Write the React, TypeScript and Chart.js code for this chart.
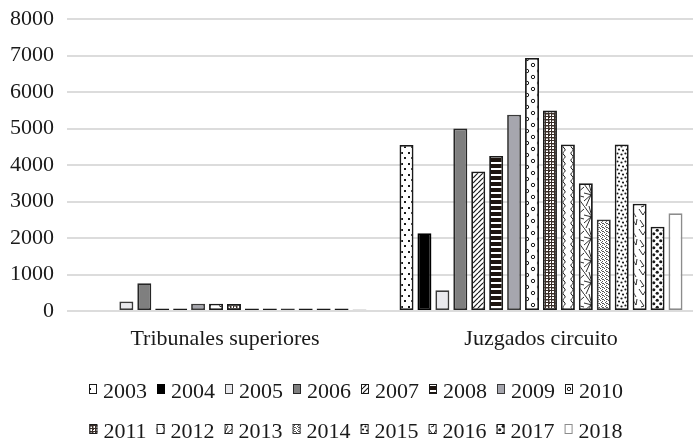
import React, { useEffect, useRef } from 'react';
import { Chart, registerables } from 'chart.js';

Chart.register(...registerables);

const categories = ['Tribunales superiores', 'Juzgados circuito'];
const years = ['2003', '2004', '2005', '2006', '2007', '2008', '2009', '2010', '2011', '2012', '2013', '2014', '2015', '2016', '2017', '2018'];
const tribunalesSuperiores: (number | null)[] = [null, null, 260, 760, 70, 70, 200, 200, 190, 70, 70, 70, 70, 70, 70, 40];
const juzgadosCircuito: (number | null)[] = [4550, 2130, 570, 5000, 3820, 4250, 5380, 6930, 5490, 4560, 3500, 2510, 4560, 2940, 2310, 2680];
const yMax = 8000;
const yStep = 1000;

const FONT = "'Liberation Serif', 'Times New Roman', serif";
const INK = '#1a1a1a';

type Paint = (ctx: CanvasRenderingContext2D) => void;

function tile(w: number, h: number, paint: Paint): CanvasPattern | string {
  const c = document.createElement('canvas');
  c.width = w;
  c.height = h;
  const ctx = c.getContext('2d');
  if (!ctx) return '#ffffff';
  ctx.fillStyle = '#ffffff';
  ctx.fillRect(0, 0, w, h);
  ctx.fillStyle = INK;
  ctx.strokeStyle = INK;
  paint(ctx);
  return ctx.createPattern(c, 'repeat') || '#ffffff';
}

function dot(c: CanvasRenderingContext2D, x: number, y: number, r: number) {
  c.beginPath();
  c.arc(x, y, r, 0, Math.PI * 2);
  c.fill();
}
function ring(c: CanvasRenderingContext2D, x: number, y: number, r: number) {
  c.beginPath();
  c.arc(x, y, r, 0, Math.PI * 2);
  c.stroke();
}
function poly(c: CanvasRenderingContext2D, p: number[]) {
  c.beginPath();
  c.moveTo(p[0], p[1]);
  for (let i = 2; i < p.length; i += 2) c.lineTo(p[i], p[i + 1]);
  c.stroke();
}

function buildFills(): (CanvasPattern | string)[] {
  return [
    // 2003 sparse dots
    tile(7, 11, (c) => { c.fillRect(1, 1, 2, 2); c.fillRect(4, 6, 2, 2); }),
    // 2004 solid black
    '#000000',
    // 2005 very light grey
    '#e9e9ed',
    // 2006 grey
    '#7f7f7f',
    // 2007 diagonal hatch
    tile(5, 5, (c) => { c.lineWidth = 1.2; for (const k of [-5, 0, 5]) poly(c, [k, 5, k + 5, 0]); }),
    // 2008 horizontal stripes
    tile(4, 6, (c) => { c.fillStyle = '#1e1510'; c.fillRect(0, 0, 4, 4); }),
    // 2009 mid grey
    '#a6a6ae',
    // 2010 small rings
    tile(12, 12, (c) => { c.lineWidth = 1; ring(c, 3, 3, 1.7); ring(c, 9, 9, 1.7); }),
    // 2011 plaid
    tile(6, 6, (c) => {
      c.fillStyle = '#3a2e28';
      c.fillRect(0, 0, 6, 1); c.fillRect(0, 3, 6, 1);
      c.fillRect(0, 0, 1, 6); c.fillRect(3, 0, 1, 6);
      c.fillRect(0, 0, 2, 2);
      c.globalAlpha = 0.5; c.fillRect(4, 4, 2, 1); c.fillRect(1, 4, 1, 2);
    }),
    // 2012 waves
    tile(8, 14, (c) => {
      c.lineWidth = 1;
      c.beginPath();
      c.moveTo(4, 0);
      c.bezierCurveTo(8, 3.5, 0, 3.5, 4, 7);
      c.bezierCurveTo(8, 10.5, 0, 10.5, 4, 14);
      c.stroke();
    }),
    // 2013 random crossing lines
    tile(16, 22, (c) => {
      c.lineWidth = 0.9;
      poly(c, [0, 0, 16, 22]);
      poly(c, [16, 3, 0, 17]);
      poly(c, [5, 0, 11, 22]);
      poly(c, [0, 9, 16, 13]);
      poly(c, [12, 0, 2, 22]);
    }),
    // 2014 fine halftone
    tile(4, 4, (c) => {
      c.fillStyle = '#555555';
      c.fillRect(0, 0, 1, 1); c.fillRect(2, 1, 1, 1); c.fillRect(1, 2, 1, 1); c.fillRect(3, 3, 1, 1);
      c.fillRect(2, 3, 1, 1);
    }),
    // 2015 dense dots
    tile(8, 8, (c) => { dot(c, 1.5, 1.5, 1.1); dot(c, 5.5, 2.5, 1.1); dot(c, 3, 5.5, 1.1); dot(c, 7, 6.5, 1.1); }),
    // 2016 zigzag
    tile(14, 20, (c) => {
      c.lineWidth = 0.9;
      poly(c, [1, 1, 5, 7, 8, 2, 12, 9]);
      poly(c, [2, 12, 6, 18, 3, 19]);
      poly(c, [9, 12, 12, 17, 13, 11]);
    }),
    // 2017 big dots
    tile(7, 7, (c) => { dot(c, 1.75, 1.75, 1.6); dot(c, 5.25, 5.25, 1.6); }),
    // 2018 white
    '#ffffff',
  ];
}

const borderColors = [
  INK, '#000000', '#3a3a3a', '#262626', INK, INK, '#3a3a3a', INK,
  INK, INK, INK, '#333333', INK, INK, INK, '#8c8c8c',
];

const rowLegend = {
  id: 'rowLegend',
  afterDraw(chart: any) {
    const ctx: CanvasRenderingContext2D = chart.ctx;
    const ds = chart.data.datasets;
    ctx.save();
    ctx.font = `22px ${FONT}`;
    ctx.textBaseline = 'middle';
    ctx.textAlign = 'left';
    const perRow = 8;
    const boxW = 8;
    const boxH = 10;
    const gap = 6;
    const itemGap = 10;
    const rowY = [chart.height - 48, chart.height - 8];
    const cx = chart.width / 2 - 2;
    for (let r = 0; r * perRow < ds.length; r++) {
      const row = ds.slice(r * perRow, r * perRow + perRow);
      const widths = row.map((d: any) => boxW + gap + ctx.measureText(d.label).width);
      const total = widths.reduce((a: number, b: number) => a + b, 0) + itemGap * (row.length - 1);
      let x = cx - total / 2;
      const y = rowY[r];
      row.forEach((d: any, j: number) => {
        ctx.fillStyle = d.backgroundColor;
        ctx.fillRect(x, y - 8, boxW, boxH);
        ctx.lineWidth = 1;
        ctx.strokeStyle = d.borderColor;
        ctx.strokeRect(x + 0.5, y - 7.5, boxW - 1, boxH - 1);
        ctx.fillStyle = INK;
        ctx.fillText(d.label, x + boxW + gap, y);
        x += widths[j] + itemGap;
      });
    }
    ctx.restore();
  },
};

export default function App() {
  const ref = useRef<HTMLCanvasElement>(null);

  useEffect(() => {
    const canvas = ref.current;
    if (!canvas) return;
    const fills = buildFills();
    const chart = new Chart(canvas, {
      type: 'bar',
      data: {
        labels: categories,
        datasets: years.map((y, i) => ({
          label: y,
          data: [tribunalesSuperiores[i], juzgadosCircuito[i]],
          backgroundColor: fills[i] as any,
          borderColor: borderColors[i],
          borderWidth: 1.8,
          borderSkipped: false,
          categoryPercentage: 0.908,
          barPercentage: 0.78,
        })),
      },
      options: {
        animation: false,
        responsive: false,
        maintainAspectRatio: false,
        layout: { padding: { left: 0, right: 9, top: 11, bottom: 89 } },
        plugins: {
          legend: { display: false },
          tooltip: { enabled: false },
        },
        scales: {
          x: {
            grid: { display: false, drawTicks: false },
            border: { display: false },
            ticks: { font: { family: FONT, size: 22 }, color: INK, padding: 15 },
            afterFit: (s: any) => { s.height = 40; s.paddingLeft = 0; s.paddingRight = 0; },
          },
          y: {
            min: 0,
            max: yMax,
            grid: { color: '#dcdcdc', lineWidth: 2, drawTicks: false },
            border: { display: false },
            ticks: {
              stepSize: yStep,
              font: { family: FONT, size: 22, lineHeight: 1 },
              color: INK,
              padding: 13,
              callback: (v: any) => String(v),
            },
            afterFit: (s: any) => { s.width = 59; s.paddingTop = 0; s.paddingBottom = 0; },
          },
        },
      },
      plugins: [rowLegend],
    });
    return () => chart.destroy();
  }, []);

  return (
    <div style={{ position: 'fixed', left: 0, top: 0, width: 693, height: 440, overflow: 'hidden', background: '#fff' }}>
      <canvas ref={ref} width={700} height={432} style={{ position: 'absolute', left: 8, top: 8, display: 'block' }} />
    </div>
  );
}
